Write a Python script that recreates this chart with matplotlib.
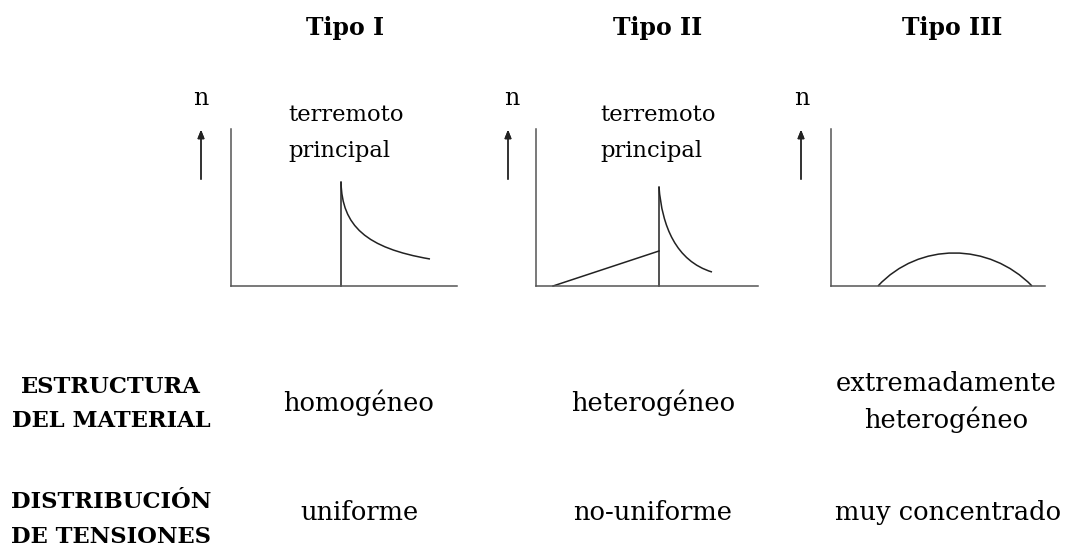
import matplotlib
matplotlib.use("Agg")
import matplotlib.pyplot as plt
from matplotlib.path import Path
from matplotlib.patches import PathPatch

# ===============================
# Data (x = px right of origin, y = px above baseline)
# ===============================
titles = ["Tipo I", "Tipo II", "Tipo III"]
material = [["homogéneo"], ["heterogéneo"], ["extremadamente", "heterogéneo"]]
tension = ["uniforme", "no-uniforme", "muy concentrado"]

# Tipo I: main shock then decay (decay as bezier control points)
t1_main_x = [110, 110]
t1_main_y = [0, 104]
t1_decay_x = [110, 111, 135, 199]
t1_decay_y = [104, 60, 38, 27]

# Tipo II: foreshock ramp, main shock, decay
t2_ramp_x = [17, 123]
t2_ramp_y = [0, 35]
t2_main_x = [123, 123]
t2_main_y = [0, 99]
t2_decay_x = [123, 126, 140, 176]
t2_decay_y = [99, 60, 25, 14]

# Tipo III: swarm (arch)
t3_x = [47, 88, 158, 201]
t3_y = [0, 44, 44, 0]

# ===============================
# Figure
# ===============================
W, H = 1070, 547
fig = plt.figure(figsize=(W / 100, H / 100), dpi=100)
plt.rcParams['font.family'] = ['DejaVu Serif']

def fx(px):
    return px / W

def fy(py):
    return 1 - py / H

# panel boxes in pixels: left, right, top, bottom
boxes = [(231, 457, 129, 286), (536, 758, 129, 286), (831, 1045, 129, 286)]
axes = []
for (l, r, t, b) in boxes:
    ax = fig.add_axes([fx(l), fy(b), (r - l) / W, (b - t) / H])
    ax.set_xlim(0, r - l)
    ax.set_ylim(0, b - t)
    for s in ["top", "right"]:
        ax.spines[s].set_visible(False)
    for s in ["left", "bottom"]:
        ax.spines[s].set_color("#555555")
        ax.spines[s].set_linewidth(1.1)
    ax.set_xticks([])
    ax.set_yticks([])
    ax.patch.set_alpha(0)
    axes.append(ax)

ax1, ax2, ax3 = axes
lk = dict(color="#222222", lw=1.1, clip_on=False)

def curve(ax, xs, ys):
    verts = list(zip(xs, ys))
    codes = [Path.MOVETO] + [Path.CURVE4] * 3
    ax.add_patch(PathPatch(Path(verts, codes), fill=False,
                           edgecolor="#222222", lw=1.1, clip_on=False))

ax1.plot(t1_main_x, t1_main_y, **lk)
curve(ax1, t1_decay_x, t1_decay_y)
ax2.plot(t2_ramp_x, t2_ramp_y, **lk)
ax2.plot(t2_main_x, t2_main_y, **lk)
curve(ax2, t2_decay_x, t2_decay_y)
curve(ax3, t3_x, t3_y)

# "n" and arrow for each panel
for xn, xa in [(201, 201), (512, 508), (802, 801)]:
    fig.text(fx(xn), fy(105), "n", fontsize=17, ha="center", va="baseline")
    fig.add_artist(plt.annotate(
        "", xy=(fx(xa), fy(127)), xytext=(fx(xa), fy(182)),
        xycoords="figure fraction", textcoords="figure fraction",
        arrowprops=dict(arrowstyle="-|>,head_length=0.5,head_width=0.2",
                        color="#222222", lw=1.0)))

# "terremoto principal"
for xl in [288, 600]:
    fig.text(fx(xl), fy(121), "terremoto", fontsize=16.3, ha="left", va="baseline")
    fig.text(fx(xl), fy(157), "principal", fontsize=16.3, ha="left", va="baseline")

# titles
for xc, t in zip([345, 658, 952], titles):
    fig.text(fx(xc), fy(35), t, fontsize=17, fontweight="bold",
             ha="center", va="baseline")

# row labels
for yb, t in [(393, "ESTRUCTURA"), (427, "DEL MATERIAL"),
              (508, "DISTRIBUCIÓN"), (543, "DE TENSIONES")]:
    fig.text(fx(111), fy(yb), t, fontsize=16.3, fontweight="bold",
             ha="center", va="baseline")

# row values
for xc, lines in zip([359, 653, 946], material):
    ys = [411] if len(lines) == 1 else [391, 428]
    for yb, t in zip(ys, lines):
        fig.text(fx(xc), fy(yb), t, fontsize=18.5, ha="center", va="baseline")
for xc, t in zip([359, 653, 948], tension):
    fig.text(fx(xc), fy(520), t, fontsize=18.5, ha="center", va="baseline")

fig.savefig("out.png", dpi=100)
